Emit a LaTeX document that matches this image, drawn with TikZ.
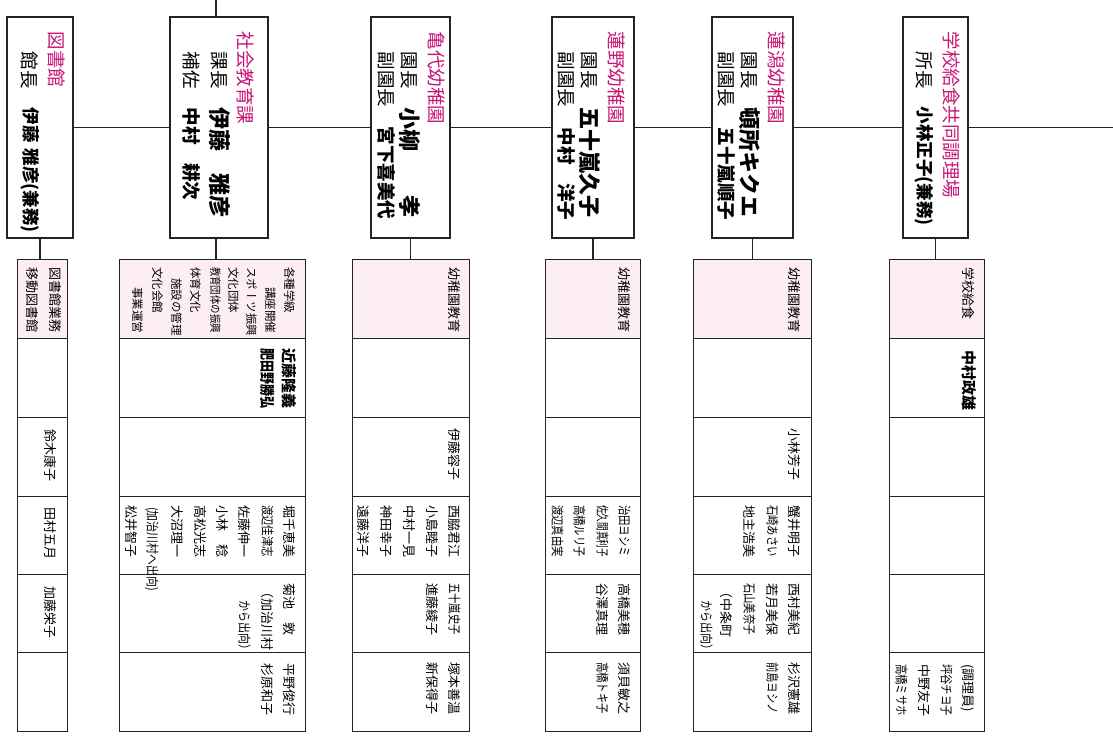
\documentclass[tikz,border=0pt]{standalone}
\usepackage{fontspec}
\usepackage{graphicx}
\newfontfamily\vj[Vertical=RotatedGlyphs]{Noto Sans CJK JP}
\newfontfamily\hj{Noto Sans CJK JP}
\definecolor{mag}{RGB}{200,22,120}
\definecolor{pinkbg}{RGB}{253,238,242}
\definecolor{ln}{RGB}{35,35,35}
\newcounter{vc}
\newcommand\vt[4]{\stepcounter{vc}\node[vt,#1] (v\arabic{vc}) at (#2,#3) {#4};}
\newcommand\sq[2]{\scalebox{#1}[1]{#2}}
\newcommand\hp{{\hj(}}
\newcommand\hq{{\hj)}}
\newcommand\fp{{\hj（}}
\newcommand\fq{{\hj）}}
\tikzset{
 vt/.style={rotate=-90, anchor=base west, inner sep=0pt, outer sep=0pt},
 ttl/.style={font=\vj\fontsize{18.5}{18.5}\selectfont, text=mag, yshift=-7.4pt},
 lbl/.style={font=\vj\fontsize{18.5}{18.5}\selectfont, yshift=-7.4pt},
 big/.style={font=\vj\bfseries\fontsize{22}{22}\selectfont, yshift=-8.8pt},
 sec/.style={font=\vj\bfseries\fontsize{18.5}{18.5}\selectfont, yshift=-7.4pt},
 bkm/.style={font=\vj\bfseries\fontsize{17.5}{17.5}\selectfont, yshift=-7pt},
 cel/.style={font=\vj\fontsize{13}{13}\selectfont, yshift=-5.5pt},
 chd/.style={font=\vj\fontsize{11.5}{11.5}\selectfont, yshift=-4.8pt},
 cbd/.style={font=\vj\bfseries\fontsize{15}{15}\selectfont, yshift=-6.3pt},
 hbox/.style={draw=ln, line width=1.2pt, fill=white, inner sep=0pt},
 cell/.style={draw=ln, line width=1.2pt, inner sep=0pt, anchor=north west},
 conn/.style={draw=ln, line width=1.1pt},
}
\newcommand\mktable[3]{%
 \node[cell, fill=pinkbg, minimum width=#3pt, minimum height=79pt] (#1-0) at (#2,259) {};
 \node[cell, minimum width=#3pt, minimum height=79pt] (#1-1) at (#2,338) {};
 \node[cell, minimum width=#3pt, minimum height=79pt] (#1-2) at (#2,417) {};
 \node[cell, minimum width=#3pt, minimum height=78pt] (#1-3) at (#2,496) {};
 \node[cell, minimum width=#3pt, minimum height=78pt] (#1-4) at (#2,574) {};
 \node[cell, minimum width=#3pt, minimum height=79pt] (#1-5) at (#2,652) {};
}
\begin{document}
\begin{tikzpicture}[x=1pt,y=-1pt]
\useasboundingbox (0,0) rectangle (1113,741);
\fill[white] (0,0) rectangle (1113,741);
% header boxes
\node[hbox, minimum width=66pt, minimum height=221pt] (b1) at (40,127.5) {};
\node[hbox, minimum width=98pt, minimum height=221pt] (b2) at (219,127.5) {};
\node[hbox, minimum width=79pt, minimum height=221pt] (b3) at (410.5,127.5) {};
\node[hbox, minimum width=82pt, minimum height=221pt] (b4) at (593,127.5) {};
\node[hbox, minimum width=81pt, minimum height=221pt] (b5) at (752.5,127.5) {};
\node[hbox, minimum width=65pt, minimum height=221pt] (b6) at (935.5,127.5) {};
% tables
\mktable{T1}{17}{50}
\mktable{T2}{119}{186}
\mktable{T3}{352}{117}
\mktable{T4}{545}{95}
\mktable{T5}{693}{118}
\mktable{T6}{889}{95}
% connectors
\coordinate (top) at (216,0);
\coordinate (rend) at (1113,127.5);
\draw[conn] (top) -- (top |- b2.north);
\draw[conn] (b1.east) -- (b2.west);
\draw[conn] (b2.east) -- (b3.west);
\draw[conn] (b3.east) -- (b4.west);
\draw[conn] (b4.east) -- (b5.west);
\draw[conn] (b5.east) -- (b6.west);
\draw[conn] (b6.east) -- (rend);
\draw[conn] (b1.south) -- (b1.south |- T1-0.north);
\draw[conn] (top |- b2.south) -- (top |- T2-0.north);
\draw[conn] (b3.south) -- (b3.south |- T3-0.north);
\draw[conn] (b4.south) -- (b4.south |- T4-0.north);
\draw[conn] (b5.south) -- (b5.south |- T5-0.north);
\draw[conn] (b6.south) -- (b6.south |- T6-0.north);
% ---- header box texts
\vt{ttl}{57}{32}{図書館}
\vt{lbl}{30}{52}{館長}
\vt{bkm}{31}{108}{伊藤\hspace{6pt}雅彦\hp 兼務\hq}
\vt{ttl}{246}{32}{社会教育課}
\vt{lbl}{220}{52}{課長}
\vt{lbl}{192}{52}{補佐}
\vt{big}{220}{108}{伊藤　雅彦}
\vt{sec}{192}{108}{中村　耕次}
\vt{ttl}{437}{32}{亀代幼稚園}
\vt{lbl}{410}{52}{園長}
\vt{lbl}{387}{52}{副園長}
\vt{big}{410}{108}{小柳　　孝}
\vt{sec}{387}{127}{宮下喜美代}
\vt{ttl}{617}{32}{蓮野幼稚園}
\vt{lbl}{590}{52}{園長}
\vt{lbl}{567}{52}{副園長}
\vt{big}{590}{108}{五十嵐久子}
\vt{sec}{567}{128}{中村　洋子}
\vt{ttl}{777}{32}{蓮潟幼稚園}
\vt{lbl}{750}{52}{園長}
\vt{lbl}{727}{52}{副園長}
\vt{big}{750}{108}{頓所キクエ}
\vt{sec}{727}{128}{五十嵐順子}
\vt{ttl}{952}{32}{学校給食共同調理場}
\vt{lbl}{925}{52}{所長}
\vt{bkm}{925}{107}{小林正子\hp 兼務\hq}
% ---- table 1
\vt{cel}{56}{267}{図書館業務}
\vt{cel}{33}{267}{移動図書館}
\vt{cel}{51}{429}{鈴木康子}
\vt{cel}{51}{507}{田村五月}
\vt{cel}{51}{586}{加藤栄子}
% ---- table 2
\vt{chd}{290}{267}{各種学級}
\vt{chd}{271}{287}{講座開催}
\vt{chd}{252}{267}{スポーツ振興}
\vt{chd}{234}{267}{文化団体}
\vt{chd}{216}{267}{\sq{0.82}{教育団体の振興}}
\vt{chd}{196}{267}{体育文化}
\vt{chd}{177}{278}{施設の管理}
\vt{chd}{158}{267}{文化会館}
\vt{chd}{138}{287}{事業運営}
\vt{cbd}{290}{348}{近藤隆義}
\vt{cbd}{268}{348}{\sq{0.8}{肥田野勝弘}}
\vt{cel}{290}{505}{堀千恵美}
\vt{cel}{268}{505}{\sq{0.8}{渡辺佳津志}}
\vt{cel}{245}{505}{佐藤伸一}
\vt{cel}{223}{505}{小林　稔}
\vt{cel}{201}{505}{高松光志}
\vt{cel}{178}{505}{大沼理一}
\vt{cel}{153}{507}{\sq{0.84}{\hp 加治川村へ出向\hq}}
\vt{cel}{132}{505}{松井智子}
\vt{cel}{290}{583}{菊池　敦}
\vt{cel}{268}{585}{\fp 加治川村}
\vt{cel}{245}{600}{\sq{0.85}{から出向\fq}}
\vt{cel}{290}{663}{平野俊行}
\vt{cel}{268}{663}{杉原和子}
% ---- table 3
\vt{cel}{455}{267}{幼稚園教育}
\vt{cel}{455}{428}{伊藤容子}
\vt{cel}{455}{505}{西脇君江}
\vt{cel}{433}{505}{小島睦子}
\vt{cel}{410}{505}{中村一見}
\vt{cel}{387}{505}{神田幸子}
\vt{cel}{364}{505}{遠藤洋子}
\vt{cel}{455}{583}{\sq{0.8}{五十嵐史子}}
\vt{cel}{433}{583}{進藤綾子}
\vt{cel}{455}{662}{塚本善温}
\vt{cel}{433}{662}{新保得子}
% ---- table 4
\vt{cel}{625}{267}{幼稚園教育}
\vt{cel}{625}{505}{\sq{0.8}{治田ヨシミ}}
\vt{cel}{603}{505}{\sq{0.667}{佐久間真利子}}
\vt{cel}{580}{505}{\sq{0.8}{高橋ルリ子}}
\vt{cel}{558}{505}{\sq{0.8}{渡辺真由実}}
\vt{cel}{625}{583}{高橋美穂}
\vt{cel}{603}{583}{谷澤真理}
\vt{cel}{625}{662}{須貝敏之}
\vt{cel}{603}{662}{\sq{0.8}{高橋トキ子}}
% ---- table 5
\vt{cel}{795}{267}{幼稚園教育}
\vt{cel}{795}{428}{小林芳子}
\vt{cel}{795}{505}{蟹井明子}
\vt{cel}{773}{505}{\sq{0.8}{石崎あさい}}
\vt{cel}{750}{505}{地主浩美}
\vt{cel}{795}{583}{西村美紀}
\vt{cel}{773}{583}{若月美保}
\vt{cel}{750}{583}{\sq{0.8}{石山美奈子}}
\vt{cel}{727}{585}{\fp 中条町}
\vt{cel}{707}{600}{\sq{0.85}{から出向\fq}}
\vt{cel}{795}{662}{杉沢憲雄}
\vt{cel}{773}{662}{\sq{0.8}{前島ヨシノ}}
% ---- table 6
\vt{cel}{969}{267}{学校給食}
\vt{cbd}{970}{350}{中村政雄}
\vt{cel}{969}{664}{\hp 調理員\hq}
\vt{cel}{947}{664}{\sq{0.8}{坪谷チヨ子}}
\vt{cel}{925}{664}{中野友子}
\vt{cel}{902}{664}{\sq{0.8}{高橋ミサホ}}
\end{tikzpicture}
\end{document}
